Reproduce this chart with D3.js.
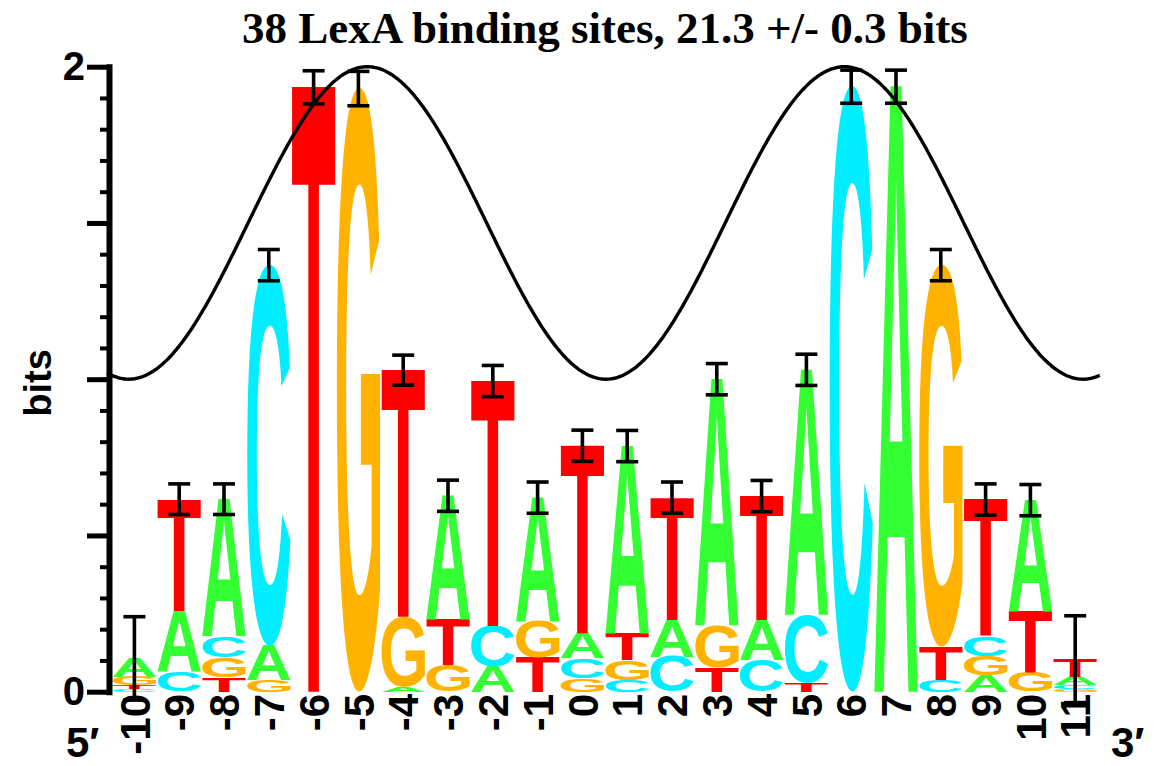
<!DOCTYPE html>
<html>
<head>
<meta charset="utf-8">
<script src="https://cdn.jsdelivr.net/npm/d3@7"></script>
<style>
  body { margin: 0; background: #fff; }
</style>
</head>
<body>
<svg id="logo" width="1163" height="766"></svg>
<script>
// positions along the site
var positions = [-10, -9, -8, -7, -6, -5, -4, -3, -2, -1, 0, 1, 2, 3, 4, 5, 6, 7, 8, 9, 10, 11];

// bits for each base at each position
var bitsA = [0.060, 0.195, 0.438, 0.109, 0, 0, 0.016, 0.396, 0.082, 0.397, 0.080, 0.600, 0.119, 0.787, 0.128, 0.784, 0, 1.936, 0, 0.053, 0.354, 0.027];
var bitsC = [0.008, 0.064, 0.068, 1.219, 0, 0, 0, 0, 0.128, 0, 0.064, 0.037, 0.112, 0, 0.101, 0.219, 1.936, 0, 0.037, 0.063, 0, 0.013];
var bitsG = [0.027, 0, 0.064, 0.037, 0, 1.930, 0.224, 0.085, 0, 0.116, 0.043, 0.064, 0, 0.135, 0, 0, 0, 0, 1.221, 0.061, 0.064, 0.007];
var bitsT = [0.012, 0.357, 0.046, 0, 1.934, 0, 0.789, 0.146, 0.784, 0.108, 0.600, 0.085, 0.390, 0.078, 0.397, 0.027, 0, 0, 0.107, 0.438, 0.195, 0.057];

// small-sample error for each stack
var errBars = [0.133, 0.049, 0.049, 0.05, 0.053, 0.055, 0.048, 0.05, 0.05, 0.05, 0.05, 0.05, 0.05, 0.05, 0.05, 0.05, 0.053, 0.053, 0.05, 0.05, 0.05, 0.139];

// helix phase wave: between 1 and 2 bits
var waveMin = 1, waveMax = 2, wavePeak = -4.8, wavePeriod = 10.65;
var waveFrom = -10.61, waveTo = 11.55;

var yTicksMinor = d3.range(0, 2.001, 0.1);
var yTicksMajor = [0, 0.5, 1, 1.5, 2];
var yLabels = [0, 2];

var baseColor = { A: "#33ff33", C: "#00eeff", G: "#ffb300", T: "#ff0000" };

var letterFont = "'Liberation Sans', Arial, sans-serif";
var svg = d3.select("#logo");

var x = d3.scaleBand()
  .domain(positions)
  .range([112, 1097.6]);

var xLin = d3.scaleLinear()
  .domain([-10.5, 11.5])
  .range([112, 1097.6]);

var y = d3.scaleLinear()
  .domain([0, 2])
  .range([691.7, 66.7]);

// find the ink box of each letter by scanning a canvas, so it can be
// stretched exactly onto its cell
var FS = 400;
var cv = document.createElement("canvas");
cv.width = 800; cv.height = 800;
var ctx = cv.getContext("2d");
var ink = {};
["A", "C", "G", "T"].forEach(function(ch) {
  ctx.clearRect(0, 0, 800, 800);
  ctx.font = "bold " + FS + "px " + letterFont;
  ctx.fillStyle = "#000";
  ctx.fillText(ch, 200, 600);
  var px = ctx.getImageData(0, 0, 800, 800).data;
  var x0 = 800, x1 = 0, y0 = 800, y1 = 0;
  for (var j = 0; j < 800; j++) {
    for (var i = 0; i < 800; i++) {
      if (px[(j * 800 + i) * 4 + 3] > 127) {
        if (i < x0) x0 = i;
        if (i > x1) x1 = i;
        if (j < y0) y0 = j;
        if (j > y1) y1 = j;
      }
    }
  }
  ink[ch] = { x0: x0 - 200, x1: x1 + 1 - 200, y0: y0 - 600, y1: y1 + 1 - 600 };
});

// build stacks, smallest at the bottom
var stacks = positions.map(function(p, i) {
  var col = [
    { base: "A", bits: bitsA[i] },
    { base: "C", bits: bitsC[i] },
    { base: "G", bits: bitsG[i] },
    { base: "T", bits: bitsT[i] }
  ].filter(d => d.bits > 0);
  col.sort((a, b) => a.bits - b.bits);
  var acc = 0;
  col.forEach(function(d) {
    d.y0 = acc;
    acc += d.bits;
    d.y1 = acc;
    d.pos = p;
  });
  return { pos: p, letters: col, total: acc, err: errBars[i] };
});

var letterGroup = svg.append("g");
var pad = 0.8;
var allLetters = [].concat.apply([], stacks.map(s => s.letters));

letterGroup.selectAll("text")
  .data(allLetters)
  .enter()
  .append("text")
  .attr("font-family", letterFont)
  .attr("font-weight", "bold")
  .attr("font-size", FS)
  .attr("fill", d => baseColor[d.base])
  .attr("transform", function(d) {
    var b = ink[d.base];
    var x0 = x(d.pos) + pad;
    var w = x.bandwidth() - 2 * pad;
    var top = y(d.y1);
    var h = y(d.y0) - y(d.y1);
    var sx = w / (b.x1 - b.x0), sy = h / (b.y1 - b.y0);
    return `translate(${x0},${top}) scale(${sx},${sy}) translate(${-b.x0},${-b.y0})`;
  })
  .text(d => d.base);

// helix wave
var wavePts = d3.range(waveFrom, waveTo + 0.001, 0.04);
var wave = d3.line()
  .x(p => xLin(p))
  .y(p => y(waveMin + (waveMax - waveMin) * (0.5 + 0.5 * Math.cos(2 * Math.PI * (p - wavePeak) / wavePeriod))))
  .curve(d3.curveBasis);

svg.append("path")
  .datum(wavePts)
  .attr("d", wave)
  .attr("fill", "none")
  .attr("stroke", "#000")
  .attr("stroke-width", 3.4);

// error bars
var errGroup = svg.append("g")
  .attr("stroke", "#000")
  .attr("stroke-width", 3.6);

stacks.forEach(function(s) {
  var cx = x(s.pos) + x.bandwidth() / 2;
  var hi = y(s.total + s.err), lo = y(s.total - s.err);
  errGroup.append("line").attr("x1", cx).attr("x2", cx).attr("y1", hi).attr("y2", lo);
  errGroup.append("line").attr("x1", cx - 11).attr("x2", cx + 11).attr("y1", hi).attr("y2", hi);
  errGroup.append("line").attr("x1", cx - 11).attr("x2", cx + 11).attr("y1", lo).attr("y2", lo);
});

// y axis
var axisG = svg.append("g")
  .attr("transform", "translate(109,0)");

axisG.append("g")
  .call(d3.axisLeft(y).tickValues(yTicksMinor).tickSize(9).tickSizeOuter(0).tickFormat(""))
  .call(g => g.selectAll(".tick line").attr("stroke-width", 4))
  .call(g => g.select(".domain").remove());

axisG.append("g")
  .call(d3.axisLeft(y).tickValues(yTicksMajor).tickSize(22).tickSizeOuter(0).tickPadding(2)
    .tickFormat(d => yLabels.indexOf(d) >= 0 ? d : ""))
  .call(g => g.selectAll(".tick line").attr("stroke-width", 5))
  .call(g => g.select(".domain").attr("stroke-width", 6).attr("stroke-linecap", "square"))
  .call(g => g.selectAll("text")
    .attr("font-family", letterFont)
    .attr("font-weight", "bold")
    .attr("font-size", 40)
    .attr("fill", "#000"));

// x tick labels, rotated
svg.append("g")
  .selectAll("text")
  .data(positions)
  .enter()
  .append("text")
  .attr("transform", d => `translate(${x(d) + x.bandwidth() / 2},694) rotate(-90)`)
  .attr("dy", "0.36em")
  .attr("text-anchor", "end")
  .attr("font-family", letterFont)
  .attr("font-weight", "bold")
  .attr("font-size", 42)
  .text(d => d);

// ends of the strand
svg.append("text")
  .attr("x", 66).attr("y", 757)
  .attr("font-family", letterFont)
  .attr("font-weight", "bold")
  .attr("font-size", 42)
  .text("5\u2032");

svg.append("text")
  .attr("x", 1111).attr("y", 757)
  .attr("font-family", letterFont)
  .attr("font-weight", "bold")
  .attr("font-size", 42)
  .text("3\u2032");

// y label
svg.append("text")
  .attr("transform", "translate(37,383) rotate(-90)")
  .attr("dy", "0.36em")
  .attr("text-anchor", "middle")
  .attr("font-family", letterFont)
  .attr("font-weight", "bold")
  .attr("font-size", 38)
  .text("bits");

// title
svg.append("text")
  .attr("x", 605).attr("y", 43)
  .attr("text-anchor", "middle")
  .attr("font-family", "'Liberation Serif', 'Times New Roman', serif")
  .attr("font-weight", "bold")
  .attr("font-size", 45)
  .text("38 LexA binding sites, 21.3 +/- 0.3 bits");
</script>
</body>
</html>
